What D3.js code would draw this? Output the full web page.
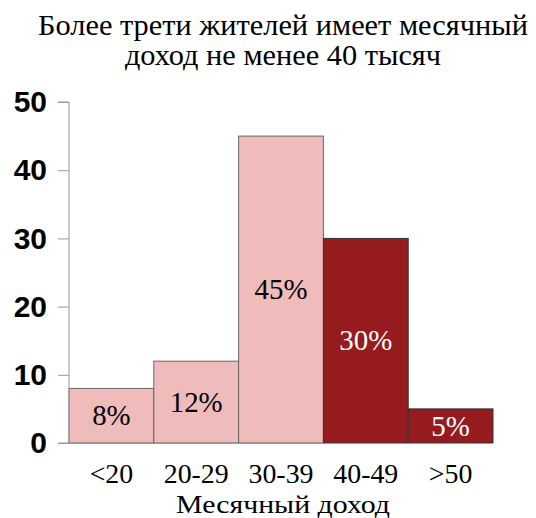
<!DOCTYPE html>
<html><head><meta charset="utf-8">
<script src="https://cdn.jsdelivr.net/npm/d3@7"></script>
<style>body{margin:0;background:#fff}</style>
</head><body>
<svg id="c" width="536" height="518"></svg>
<script>
const categories = ["<20", "20-29", "30-39", "40-49", ">50"];
const values = [8, 12, 45, 30, 5];
const labels = ["8%", "12%", "45%", "30%", "5%"];
const highlight = [false, false, false, true, true];
const yTicks = [0, 10, 20, 30, 40, 50];
const titleLines = ["Более трети жителей имеет месячный", "доход не менее 40 тысяч"];
const xTitle = "Месячный доход";

const svg = d3.select("#c");
const serif = '"Liberation Serif"';
const sans = '"Liberation Sans"';
const x = d3.scaleBand().domain(categories).range([69, 493]).padding(0);
const y = d3.scaleLinear().domain([0, 50]).range([443, 102]);

// horizontally stretch text around its anchor so that width matches the reference's wider face
function stretch(sel, sx) {
  sel.each(function () {
    const t = d3.select(this);
    const px = +t.attr("x"), py = +t.attr("y");
    t.attr("x", 0).attr("y", 0).attr("transform", `translate(${px},${py}) scale(${sx},1)`);
  });
}

const title = svg.append("g").selectAll("text").data(titleLines).join("text")
  .attr("x", 283).attr("y", (d, i) => 35 + i * 30)
  .attr("text-anchor", "middle").style("font-family", serif).style("font-size", "29px")
  .text(d => d);
{
  const w = title.nodes()[0].getComputedTextLength();
  stretch(title, 490 / w);
}

const bars = svg.append("g");
bars.selectAll("rect").data(values).join("rect")
  .attr("x", (d, i) => x(categories[i]))
  .attr("y", d => y(d))
  .attr("width", x.bandwidth())
  .attr("height", d => y(0) - y(d))
  .attr("fill", (d, i) => highlight[i] ? "#961b1e" : "#f0bbbb")
  .attr("stroke", (d, i) => highlight[i] ? "#333" : "#666")
  .attr("stroke-width", 1);

const bl = bars.selectAll("text").data(values).join("text")
  .attr("x", (d, i) => x(categories[i]) + x.bandwidth() / 2)
  .attr("y", d => (y(d) + y(0)) / 2)
  .attr("dy", "0.33em")
  .attr("text-anchor", "middle").style("font-family", serif).style("font-size", "29px")
  .attr("fill", (d, i) => highlight[i] ? "#fff" : "#000")
  .text((d, i) => labels[i]);
{
  const w = bl.nodes()[3].getComputedTextLength();
  stretch(bl, 53 / w);
}

const yAxis = svg.append("g").attr("transform", "translate(69,0)")
  .call(d3.axisLeft(y).tickValues(yTicks).tickSize(11).tickPadding(11).tickFormat(d3.format("d")));
yAxis.select(".domain").attr("stroke", "#999").attr("d", "M-11,102H0V443H-11");
yAxis.selectAll(".tick line").attr("stroke", "#999");
yAxis.selectAll(".tick text").style("font-family", sans)
  .style("font-weight", "bold").style("font-size", "30px").attr("fill", "#000");
svg.append("line").attr("x1", 58).attr("x2", 493).attr("y1", 443.5).attr("y2", 443.5).attr("stroke", "#999");

const xAxis = svg.append("g").attr("transform", "translate(0,443)")
  .call(d3.axisBottom(x).tickSize(0).tickPadding(22));
xAxis.select(".domain").remove();
const xt = xAxis.selectAll(".tick text").style("font-family", serif).style("font-size", "27px").attr("fill", "#000")
  .attr("dy", null).attr("y", 40);
{
  const w = xt.nodes()[1].getComputedTextLength();
  stretch(xt, 65 / w);
}

const xl = svg.append("text").attr("x", 283).attr("y", 513).attr("text-anchor", "middle")
  .style("font-family", serif).style("font-size", "26px").text(xTitle);
{
  const w = xl.node().getComputedTextLength();
  stretch(xl, 214 / w);
}
</script>
</body></html>
